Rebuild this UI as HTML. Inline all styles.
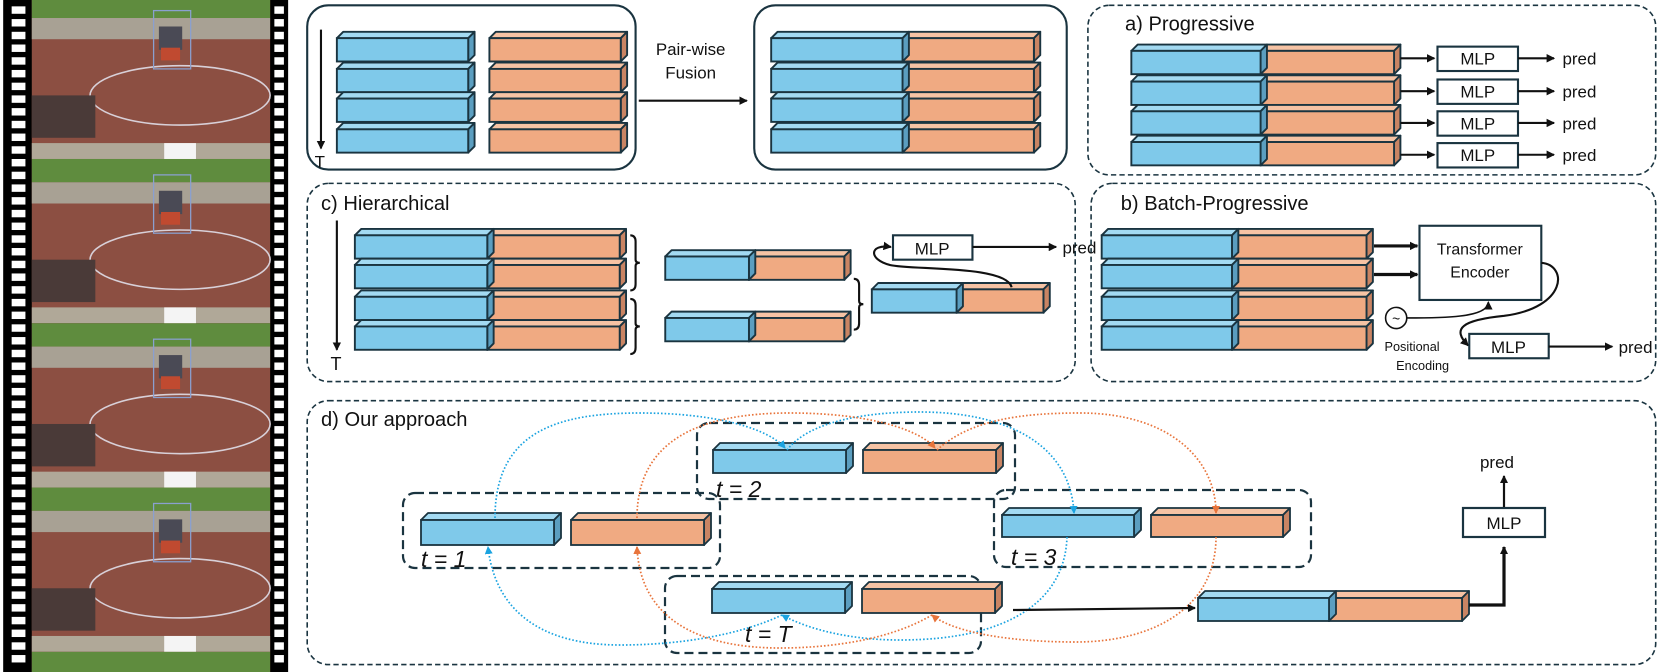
<!DOCTYPE html>
<html><head><meta charset="utf-8"><style>
html,body{margin:0;padding:0;background:#fff;width:1661px;height:672px;overflow:hidden;}
svg{display:block;}
text{font-family:"Liberation Sans",sans-serif;fill:#111;}
</style></head><body>
<svg id="s" width="1661" height="672" viewBox="0 0 1568 634" preserveAspectRatio="none" xmlns="http://www.w3.org/2000/svg" overflow="hidden">
<defs>
<marker id="ah" markerWidth="8" markerHeight="8" refX="7" refY="4" orient="auto" markerUnits="userSpaceOnUse"><path d="M0,0 L8,4 L0,8 z" fill="#111"/></marker>
<marker id="ab" markerWidth="8" markerHeight="8" refX="7" refY="4" orient="auto" markerUnits="userSpaceOnUse"><path d="M0,0 L8,4 L0,8 z" fill="#1aa3e0"/></marker>
<marker id="ao" markerWidth="8" markerHeight="8" refX="7" refY="4" orient="auto" markerUnits="userSpaceOnUse"><path d="M0,0 L8,4 L0,8 z" fill="#e8743b"/></marker>
</defs>
<g id="film"></g>
<!-- top panes -->
<rect x="290" y="5" width="310" height="155" rx="20" fill="none" stroke="#1a3440" stroke-width="2"/>
<rect x="712" y="5" width="295" height="155" rx="20" fill="none" stroke="#1a3440" stroke-width="2"/>
<g fill="none" stroke="#1a3440" stroke-width="1.5" stroke-dasharray="5,3">
<rect x="1027" y="5" width="536" height="160" rx="20"/>
<rect x="290" y="173" width="725" height="187" rx="20"/>
<rect x="1030" y="173" width="533" height="187" rx="20"/>
<rect x="290" y="378" width="1273" height="249" rx="20"/>
</g>
<g id="bars"></g>
<!-- top-left -->
<line x1="303" y1="28" x2="303" y2="140" stroke="#111" stroke-width="2" marker-end="url(#ah)"/>
<text x="297" y="158" font-size="16">T</text>
<text x="652" y="52" font-size="16" text-anchor="middle">Pair-wise</text>
<text x="652" y="74" font-size="16" text-anchor="middle">Fusion</text>
<line x1="603" y1="95" x2="705" y2="95" stroke="#111" stroke-width="2" marker-end="url(#ah)"/>
<!-- a -->
<text x="1062" y="29" font-size="19">a) Progressive</text>
<g id="amlp"></g>
<!-- c -->
<text x="303" y="198" font-size="19">c) Hierarchical</text>
<line x1="318" y1="208" x2="318" y2="330" stroke="#111" stroke-width="2" marker-end="url(#ah)"/>
<text x="312" y="349" font-size="17">T</text>
<g fill="none" stroke="#111" stroke-width="2">
<path d="M595,222 q5,0 5,6 v17 q0,3 4,3 q-4,0 -4,3 v17 q0,6 -5,6"/>
<path d="M595,282 q5,0 5,6 v17 q0,3 4,3 q-4,0 -4,3 v17 q0,6 -5,6"/>
<path d="M806,263 q5,0 5,6 v15 q0,3 4,3 q-4,0 -4,3 v15 q0,6 -5,6"/>
<path d="M955,271 C950,250 860,255 840,250 C820,245 820,230 841,233" marker-end="url(#ah)"/>
</g>
<rect x="843" y="222" width="75" height="23" fill="#fff" stroke="#1a3440" stroke-width="2"/>
<text x="880" y="240" font-size="16" text-anchor="middle">MLP</text>
<line x1="918" y1="233" x2="997" y2="233" stroke="#111" stroke-width="2" marker-end="url(#ah)"/>
<text x="1003" y="239" font-size="16">pred</text>
<!-- b -->
<text x="1058" y="198" font-size="19">b) Batch-Progressive</text>
<line x1="1297" y1="232" x2="1338" y2="232" stroke="#111" stroke-width="3" marker-end="url(#ah)"/>
<line x1="1297" y1="259" x2="1338" y2="259" stroke="#111" stroke-width="3" marker-end="url(#ah)"/>
<rect x="1340" y="213" width="115" height="70" fill="#fff" stroke="#1a3440" stroke-width="2"/>
<text x="1397" y="240" font-size="15" text-anchor="middle">Transformer</text>
<text x="1397" y="262" font-size="15" text-anchor="middle">Encoder</text>
<circle cx="1318" cy="300" r="10" fill="#fff" stroke="#111" stroke-width="1.5"/>
<text x="1318" y="305" font-size="13" text-anchor="middle">~</text>
<path d="M1328,300 C1360,300 1405,300 1405,285" fill="none" stroke="#111" stroke-width="1.5" marker-end="url(#ah)"/>
<path d="M1455,248 C1480,250 1480,290 1420,298 C1380,302 1370,310 1386,326" fill="none" stroke="#111" stroke-width="2" marker-end="url(#ah)"/>
<rect x="1387" y="315" width="75" height="23" fill="#fff" stroke="#1a3440" stroke-width="2"/>
<text x="1424" y="333" font-size="16" text-anchor="middle">MLP</text>
<line x1="1462" y1="327" x2="1522" y2="327" stroke="#111" stroke-width="2" marker-end="url(#ah)"/>
<text x="1528" y="333" font-size="16">pred</text>
<text x="1307" y="331" font-size="12">Positional</text>
<text x="1318" y="349" font-size="12">Encoding</text>
<!-- d -->
<text x="303" y="402" font-size="19">d) Our approach</text>
<g transform="scale(0.94401 0.94345)">
<g fill="none" stroke="#1a3440" stroke-width="2.2" stroke-dasharray="9,5">
<rect x="697" y="423" width="318" height="76" rx="12"/>
<rect x="403" y="493" width="317" height="75" rx="12"/>
<rect x="994" y="490" width="317" height="77" rx="12"/>
<rect x="665" y="576" width="316" height="77" rx="12"/>
</g>
<g id="dbars"></g>
<g fill="none" stroke-width="1.7" stroke-dasharray="1.6,2">
<path d="M495,518 C495,430 560,413 640,413 C720,413 770,430 785,448" stroke="#1aa3e0" marker-end="url(#ab)"/>
<path d="M787,450 C810,420 870,412 920,412 C1000,412 1070,440 1074,513" stroke="#1aa3e0" marker-end="url(#ab)"/>
<path d="M1067,537 C1065,600 1010,640 900,640 C840,640 800,625 782,615" stroke="#1aa3e0" marker-end="url(#ab)"/>
<path d="M782,615 C740,635 680,645 620,645 C540,645 495,610 488,547" stroke="#1aa3e0" marker-end="url(#ab)"/>
<path d="M637,518 C637,440 700,413 790,413 C870,413 920,430 935,448" stroke="#e8743b" marker-end="url(#ao)"/>
<path d="M937,450 C970,420 1020,413 1080,413 C1170,413 1216,460 1216,513" stroke="#e8743b" marker-end="url(#ao)"/>
<path d="M1216,537 C1216,610 1150,642 1076,642 C1000,642 950,630 932,615" stroke="#e8743b" marker-end="url(#ao)"/>
<path d="M932,615 C890,640 830,648 780,648 C700,648 640,620 637,547" stroke="#e8743b" marker-end="url(#ao)"/>
</g>
<g font-size="23" font-style="italic">
<text x="716" y="497">t = 2</text>
<text x="421" y="567">t = 1</text>
<text x="1011" y="565">t = 3</text>
<text x="745" y="642">t = T</text>
</g>
<line x1="1013" y1="610" x2="1195" y2="608" stroke="#111" stroke-width="2.2" marker-end="url(#ah)"/>
<path d="M1469,605 H1504 V547" fill="none" stroke="#111" stroke-width="3.2" marker-end="url(#ah)"/>
<rect x="1463" y="508" width="82" height="29" fill="#fff" stroke="#1a3440" stroke-width="2.2"/>
<text x="1504" y="529" font-size="17" text-anchor="middle">MLP</text>
<line x1="1504" y1="507" x2="1504" y2="476" stroke="#111" stroke-width="2.2" marker-end="url(#ah)"/>
<text x="1497" y="468" font-size="17" text-anchor="middle">pred</text>
</g>
<script>
var NS="http://www.w3.org/2000/svg";
function el(p,t,a){var e=document.createElementNS(NS,t);for(var k in a)e.setAttribute(k,a[k]);p.appendChild(e);return e;}
var B=document.getElementById('bars');
var C={b:["#7fc9ea","#a3daf2","#5b9ec0"],o:["#f0aa82","#f6c3a4","#c98463"]};
function bar(x,y,w,h,c,P,d){P=P||B;d=d||6;var k=C[c];
el(P,'path',{d:'M'+x+','+y+' l'+d+','+(-d)+' h'+w+' l'+(-d)+','+d+' z',fill:k[1],stroke:'#1a3440','stroke-width':1.8,'stroke-linejoin':'round'});
el(P,'path',{d:'M'+(x+w)+','+y+' l'+d+','+(-d)+' v'+h+' l'+(-d)+','+d+' z',fill:k[2],stroke:'#1a3440','stroke-width':1.8,'stroke-linejoin':'round'});
el(P,'rect',{x:x,y:y,width:w,height:h,fill:k[0],stroke:'#1a3440','stroke-width':1.8});}
[36,65,93,122].forEach(function(y){bar(462,y,124,22,'o');bar(318,y,124,22,'b');
 bar(852,y,124,22,'o');bar(728,y,124,22,'b');});
var A=document.getElementById('amlp');
[48,77,105,134].forEach(function(y,i){bar(1190,y,126,22,'o');bar(1068,y,122,22,'b');
 var my=[55,86,116,146][i];
 el(A,'line',{x1:1322,y1:my,x2:1354,y2:my,stroke:'#111','stroke-width':2,'marker-end':'url(#ah)'});
 el(A,'rect',{x:1357,y:my-11,width:76,height:23,fill:'#fff',stroke:'#1a3440','stroke-width':2});
 el(A,'line',{x1:1433,y1:my,x2:1467,y2:my,stroke:'#111','stroke-width':2,'marker-end':'url(#ah)'});
});
[222,250,280,308].forEach(function(y){bar(460,y,125,22,'o');bar(335,y,125,22,'b');
 bar(1163,y,127,22,'o');bar(1040,y,123,22,'b');});
bar(707,242,90,22,'o');bar(628,242,79,22,'b');
bar(707,300,90,22,'o');bar(628,300,79,22,'b');
bar(903,273,82,22,'o');bar(823,273,80,22,'b');
var D=document.getElementById('dbars');
bar(863,450,133,23,'o',D,7);bar(713,450,133,23,'b',D,7);
bar(571,520,133,25,'o',D,7);bar(421,520,133,25,'b',D,7);
bar(1151,515,132,22,'o',D,7);bar(1002,515,132,22,'b',D,7);
bar(862,589,133,24,'o',D,7);bar(712,589,133,24,'b',D,7);
bar(1329,598,133,23,'o',D,7);bar(1198,598,131,23,'b',D,7);
// film strip (clamped to frame)
var F=document.getElementById('film');
function R(x,y,w,h,a){var y1=Math.max(0,y),y2=Math.min(634,y+h);if(y2<=y1)return;a=a||{};a.x=x;a.y=y1;a.width=w;a.height=y2-y1;el(F,'rect',a);}
R(3,0,269,634,{fill:'#000'});
for(var i=0;i<5;i++){var y0=-5+i*155;
 R(30,y0,225,155,{fill:'#8c4f42'});
 R(30,y0,225,22,{fill:'#5f8c3e'});
 R(30,y0+22,225,20,{fill:'#a8a194'});
 R(30,y0+140,225,15,{fill:'#b0a898'});
 if(y0+125<634) el(F,'ellipse',{cx:170,cy:y0+95,rx:85,ry:28,fill:'none',stroke:'#d8d0d8','stroke-width':1.5});
 R(30,y0+95,60,40,{fill:'#4a3a38'});
 if(y0+72<634) el(F,'rect',{x:145,y:y0+15,width:35,height:55,fill:'none',stroke:'#8aa0d0','stroke-width':1.2});
 R(150,y0+30,22,22,{fill:'#4a4a55'});
 R(152,y0+50,18,12,{fill:'#c04a30'});
 R(155,y0+140,30,18,{fill:'#f4f4f4'});
}
for(var y=6;y<626;y+=12){R(11,y,13,7,{fill:'#fff'});R(259,y,9,7,{fill:'#fff'});}
</script>
<g font-size="16"><text x="1475" y="61">pred</text><text x="1475" y="92">pred</text><text x="1475" y="122">pred</text><text x="1475" y="152">pred</text>
<text x="1395" y="61" text-anchor="middle">MLP</text><text x="1395" y="92" text-anchor="middle">MLP</text><text x="1395" y="122" text-anchor="middle">MLP</text><text x="1395" y="152" text-anchor="middle">MLP</text></g>
</svg>
</body></html>
